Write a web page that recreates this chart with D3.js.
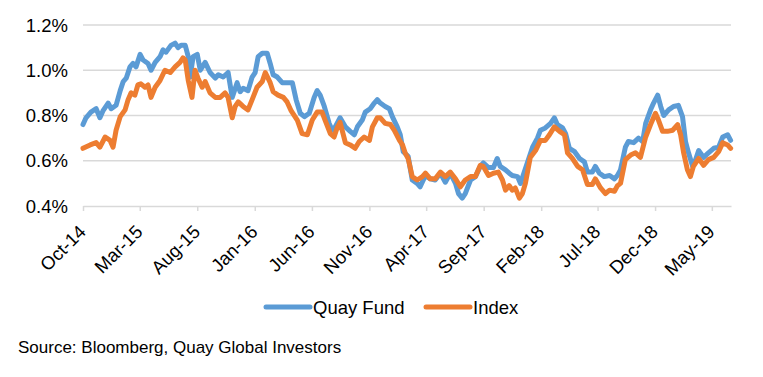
<!DOCTYPE html>
<html><head><meta charset="utf-8">
<script src="https://cdn.jsdelivr.net/npm/d3@7"></script>
<style>
body{margin:0;background:#fff;}
text{font-family:"Liberation Sans",Arial,sans-serif;fill:#000;}
</style></head>
<body><svg id="c" width="763" height="377"></svg>
<script>
const seriesNames = ["Quay Fund", "Index"];
const seriesColors = ["#5B9BD5", "#ED7D31"];
const yTicks = [0.4, 0.6, 0.8, 1.0, 1.2];
const xTickLabels = ["Oct-14","Mar-15","Aug-15","Jan-16","Jun-16","Nov-16","Apr-17","Sep-17","Feb-18","Jul-18","Dec-18","May-19"];
const xDomain = ["2014-10-01", "2019-06-21"];

const fundDates = ["2014-10-01","2014-10-09","2014-10-22","2014-11-05","2014-11-15","2014-11-23","2014-12-07","2014-12-15","2014-12-28",
"2015-01-08","2015-01-16","2015-01-24","2015-02-03","2015-02-11","2015-02-19","2015-03-02","2015-03-10","2015-03-23","2015-03-31",
"2015-04-11","2015-04-24","2015-05-02","2015-05-10","2015-05-23","2015-06-03","2015-06-11","2015-06-19","2015-06-30","2015-07-08",
"2015-07-13","2015-07-21","2015-08-01","2015-08-09","2015-08-22","2015-09-04","2015-09-18","2015-09-26","2015-10-09","2015-10-22",
"2015-11-02","2015-11-15","2015-11-23","2015-12-01","2015-12-14","2015-12-25","2016-01-02","2016-01-10","2016-01-21","2016-02-03",
"2016-02-11","2016-02-19","2016-03-01","2016-03-14","2016-03-27","2016-04-10","2016-04-20","2016-05-01","2016-05-12","2016-05-25",
"2016-06-07","2016-06-15","2016-06-23","2016-07-04","2016-07-17","2016-07-25","2016-08-02","2016-08-15","2016-08-29","2016-09-11",
"2016-09-22","2016-09-30","2016-10-13","2016-10-21","2016-11-03","2016-11-14","2016-11-22","2016-11-30","2016-12-13","2016-12-24",
"2017-01-01","2017-01-14","2017-01-22","2017-01-30","2017-02-12","2017-02-23","2017-03-08","2017-03-16","2017-03-30","2017-04-12",
"2017-04-25","2017-05-09","2017-05-22","2017-06-04","2017-06-18","2017-06-26","2017-07-06","2017-07-14","2017-07-28","2017-08-10",
"2017-08-23","2017-08-31","2017-09-14","2017-09-27","2017-10-07","2017-10-15","2017-10-29","2017-11-08","2017-11-16","2017-11-30",
"2017-12-08","2017-12-18","2017-12-26","2018-01-09","2018-01-22","2018-01-30","2018-02-12","2018-02-26","2018-03-08","2018-03-16",
"2018-03-30","2018-04-07","2018-04-17","2018-05-01","2018-05-14","2018-05-27","2018-06-04","2018-06-17","2018-06-25","2018-07-06",
"2018-07-19","2018-08-02","2018-08-15","2018-08-23","2018-08-31","2018-09-13","2018-09-21","2018-10-05","2018-10-18","2018-10-29",
"2018-11-06","2018-11-19","2018-11-27","2018-12-08","2018-12-16","2018-12-24","2019-01-06","2019-01-19","2019-02-01","2019-02-12",
"2019-02-20","2019-02-28","2019-03-11","2019-03-19","2019-03-27","2019-04-09","2019-04-22","2019-05-06","2019-05-19","2019-05-30",
"2019-06-12","2019-06-20"];
const fundValues = [0.76,0.79,0.815,0.83,0.79,0.82,0.855,0.83,0.845,
0.91,0.95,0.965,1.015,1.03,1.015,1.07,1.045,1.03,1.0,
1.035,1.06,1.09,1.08,1.11,1.12,1.10,1.11,1.11,1.06,
0.97,1.06,1.07,1.0,1.035,0.99,0.965,0.98,0.97,0.99,
0.88,0.945,0.905,0.92,0.91,0.97,0.99,1.06,1.075,1.075,
1.03,0.98,0.97,0.945,0.945,0.945,0.87,0.81,0.795,0.81,
0.88,0.91,0.89,0.84,0.765,0.735,0.75,0.79,0.75,0.73,
0.715,0.75,0.78,0.815,0.83,0.855,0.87,0.855,0.84,0.83,
0.795,0.75,0.715,0.64,0.62,0.515,0.50,0.485,0.535,0.52,
0.515,0.545,0.505,0.545,0.50,0.455,0.435,0.455,0.515,0.53,
0.575,0.59,0.57,0.57,0.61,0.575,0.56,0.545,0.535,0.53,
0.50,0.55,0.59,0.66,0.70,0.735,0.745,0.765,0.79,0.76,
0.745,0.72,0.655,0.64,0.61,0.595,0.55,0.55,0.575,0.545,
0.53,0.535,0.52,0.535,0.56,0.66,0.685,0.68,0.70,0.685,
0.765,0.825,0.855,0.89,0.84,0.80,0.825,0.84,0.845,0.795,
0.685,0.635,0.575,0.605,0.645,0.615,0.635,0.655,0.66,0.705,
0.715,0.69];

const indexDates = ["2014-10-01","2014-10-20","2014-11-05","2014-11-15","2014-11-29","2014-12-12","2014-12-20","2014-12-28",
"2015-01-08","2015-01-21","2015-01-29","2015-02-06","2015-02-16","2015-02-24","2015-03-04","2015-03-15","2015-03-23","2015-03-31",
"2015-04-11","2015-04-24","2015-05-07","2015-05-21","2015-06-03","2015-06-16","2015-06-24","2015-06-30","2015-07-08","2015-07-18",
"2015-07-26","2015-08-03","2015-08-14","2015-08-22","2015-09-04","2015-09-18","2015-10-01","2015-10-14","2015-10-22","2015-11-02",
"2015-11-10","2015-11-18","2015-12-01","2015-12-14","2015-12-25","2016-01-07","2016-01-21","2016-01-29","2016-02-11","2016-02-19",
"2016-03-03","2016-03-17","2016-03-27","2016-04-07","2016-04-23","2016-05-06","2016-05-20","2016-06-02","2016-06-15","2016-06-28",
"2016-07-06","2016-07-20","2016-07-30","2016-08-07","2016-08-15","2016-08-29","2016-09-11","2016-09-24","2016-10-05","2016-10-18",
"2016-11-01","2016-11-09","2016-11-22","2016-11-30","2016-12-13","2016-12-27","2017-01-06","2017-01-20","2017-01-28","2017-02-04",
"2017-02-12","2017-02-23","2017-03-08","2017-03-22","2017-03-30","2017-04-12","2017-04-25","2017-05-09","2017-05-22","2017-06-04",
"2017-06-18","2017-07-01","2017-07-14","2017-07-28","2017-08-10","2017-08-23","2017-08-31","2017-09-14","2017-09-27","2017-10-10",
"2017-10-21","2017-10-29","2017-11-08","2017-11-16","2017-11-24","2017-12-05","2017-12-13","2017-12-21","2018-01-03","2018-01-17",
"2018-01-30","2018-02-12","2018-02-23","2018-03-08","2018-03-22","2018-04-04","2018-04-12","2018-04-25","2018-05-09","2018-05-22",
"2018-06-04","2018-06-17","2018-06-25","2018-07-09","2018-07-22","2018-08-02","2018-08-15","2018-08-23","2018-08-31","2018-09-13",
"2018-09-27","2018-10-10","2018-10-23","2018-11-06","2018-11-19","2018-12-02","2018-12-10","2018-12-21","2019-01-03","2019-01-17",
"2019-01-30","2019-02-07","2019-02-15","2019-02-25","2019-03-05","2019-03-13","2019-03-27","2019-04-09","2019-04-22","2019-05-06",
"2019-05-19","2019-05-30","2019-06-12","2019-06-20"];
const indexValues = [0.655,0.67,0.68,0.66,0.705,0.69,0.66,0.735,
0.795,0.825,0.87,0.90,0.89,0.935,0.94,0.925,0.935,0.88,
0.925,0.955,1.0,0.99,1.015,1.035,1.055,1.045,0.955,0.88,
1.0,0.965,0.925,0.95,0.90,0.88,0.88,0.90,0.88,0.79,
0.84,0.86,0.84,0.825,0.87,0.925,0.95,0.99,0.945,0.905,
0.89,0.88,0.86,0.82,0.78,0.72,0.715,0.78,0.815,0.815,
0.78,0.72,0.705,0.745,0.77,0.68,0.67,0.655,0.685,0.705,
0.69,0.75,0.79,0.79,0.765,0.76,0.735,0.69,0.67,0.635,
0.61,0.53,0.515,0.53,0.545,0.52,0.52,0.55,0.53,0.55,
0.52,0.485,0.515,0.53,0.53,0.58,0.575,0.535,0.545,0.55,
0.515,0.47,0.49,0.47,0.48,0.435,0.455,0.50,0.615,0.645,
0.69,0.69,0.715,0.75,0.73,0.715,0.635,0.61,0.575,0.56,
0.495,0.495,0.52,0.48,0.455,0.47,0.465,0.49,0.50,0.605,
0.625,0.635,0.615,0.705,0.76,0.81,0.78,0.73,0.73,0.735,
0.76,0.715,0.635,0.56,0.53,0.575,0.61,0.58,0.605,0.615,
0.64,0.68,0.67,0.655];

const parse = d3.timeParse("%Y-%m-%d");
const parseTick = d3.timeParse("%b-%y");
const svg = d3.select("#c");
const L = 83, R = 731, T = 25, B = 206;

const x = d3.scaleTime().domain(xDomain.map(parse)).range([L, R]);
const y = d3.scaleLinear().domain([0.4, 1.2]).range([B, T]);

// gridlines
svg.append("g").selectAll("line").data(yTicks.slice(1)).join("line")
  .attr("x1", L).attr("x2", R).attr("y1", d => y(d)).attr("y2", d => y(d))
  .attr("stroke", "#D9D9D9").attr("stroke-width", 1.5);

// y labels
svg.append("g").selectAll("text").data(yTicks).join("text")
  .attr("x", 68).attr("y", d => y(d)).attr("dy", "0.36em")
  .attr("text-anchor", "end").attr("font-size", 18.5)
  .text(d => d3.format(".1f")(d) + "%");

// x axis
const tickDates = xTickLabels.map(parseTick);
const xa = svg.append("g").attr("transform", `translate(0,${B})`)
  .call(d3.axisBottom(x).tickValues(tickDates).tickSize(5).tickSizeOuter(0).tickFormat(() => ""));
xa.select(".domain").attr("stroke", "#D9D9D9").attr("stroke-width", 1.5);
xa.selectAll(".tick line").attr("stroke", "#D9D9D9").attr("stroke-width", 1.5);

svg.append("g").selectAll("text").data(xTickLabels).join("text")
  .attr("text-anchor", "end").attr("font-size", 18.5)
  .attr("transform", (d, i) => `translate(${x(tickDates[i]) + 4},${B + 27}) rotate(-45)`)
  .text(d => d);

// lines
const line = d3.line().x(d => x(d[0])).y(d => y(d[1]));
const series = [
  d3.zip(fundDates.map(parse), fundValues),
  d3.zip(indexDates.map(parse), indexValues)
];
svg.append("g").selectAll("path").data(series).join("path")
  .attr("d", line).attr("fill", "none")
  .attr("stroke", (d, i) => seriesColors[i]).attr("stroke-width", 5)
  .attr("stroke-linejoin", "round").attr("stroke-linecap", "round");

// legend
const legX = [266, 426];
const lg = svg.append("g").selectAll("g").data(seriesNames).join("g")
  .attr("transform", (d, i) => `translate(${legX[i]},307)`);
lg.append("line").attr("x1", 0).attr("x2", 44).attr("y1", 0).attr("y2", 0)
  .attr("stroke", (d, i) => seriesColors[i]).attr("stroke-width", 5).attr("stroke-linecap", "round");
lg.append("text").attr("x", 47).attr("y", 0).attr("dy", "0.36em").attr("font-size", 18.5).text(d => d);

svg.append("text").attr("x", 18).attr("y", 353).attr("font-size", 17)
  .text("Source: Bloomberg, Quay Global Investors");
</script></body></html>
